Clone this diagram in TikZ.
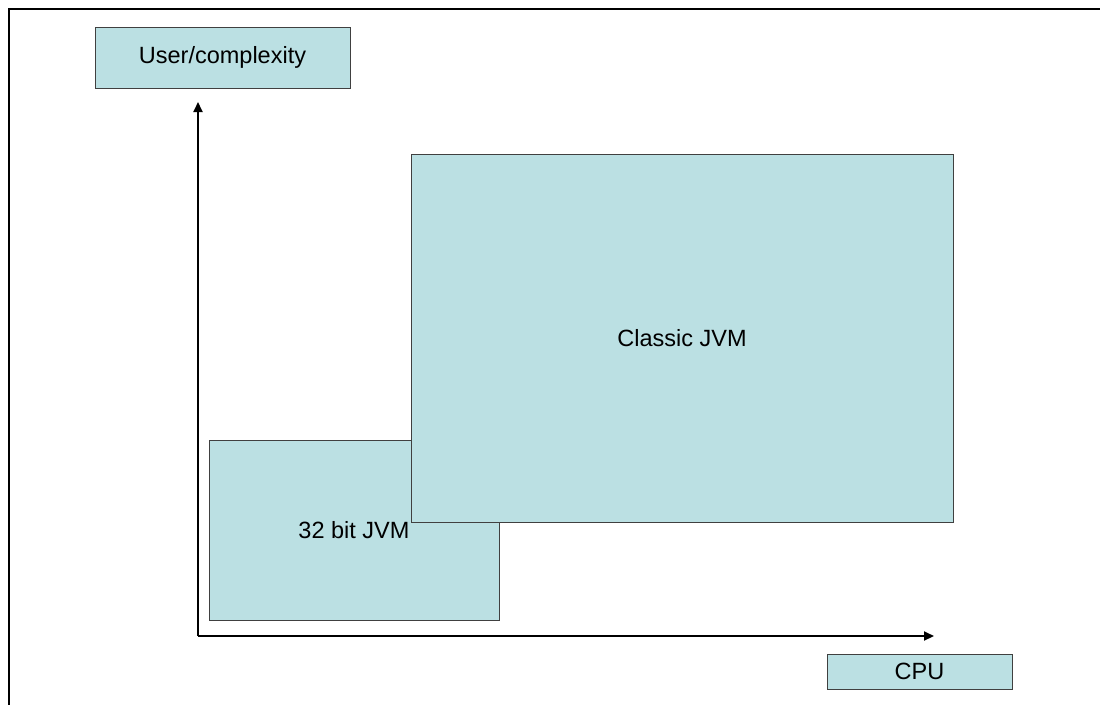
\documentclass[tikz,border=0pt]{standalone}
\usepackage{fontspec}
\setmainfont{Liberation Sans}
\usetikzlibrary{arrows.meta}
\definecolor{boxfill}{HTML}{BBE0E3}
\definecolor{boxedge}{HTML}{404040}
\tikzset{
  panel/.style={draw=boxedge, fill=boxfill, line width=1pt, inner sep=0pt, font=\fontsize{23.5}{28}\selectfont},
  axis/.style={draw=black, line width=2pt, -{Triangle[length=10pt,width=9pt]}},
  frameline/.style={draw=black, line width=1.5pt}
}
\begin{document}
\begin{tikzpicture}[x=1pt,y=-1pt]
\useasboundingbox (0,0) rectangle (1100,705);
% frame
\coordinate (fTL) at (9,9);
\coordinate (fTR) at (1100,9);
\coordinate (fBL) at (9,705);
\draw[frameline] (fTR) -- (fTL) -- (fBL);
% boxes
\node[panel, minimum width=255pt, minimum height=61pt] (user) at (222.5,57.5) {User/complexity};
\node[panel, minimum width=290pt, minimum height=180pt] (small) at (354,530) {32 bit JVM};
\node[panel, minimum width=542pt, minimum height=368pt] (classic) at (682,338) {Classic JVM};
\node[panel, minimum width=185pt, minimum height=35pt] (cpu) at (919.5,671.5) {CPU};
% axes
\coordinate (origin) at (198,636);
\coordinate (ytip) at (198,102);
\coordinate (xtip) at (934,636);
\draw[axis] (origin) -- (ytip);
\draw[axis] (origin) -- (xtip);
\end{tikzpicture}
\end{document}
